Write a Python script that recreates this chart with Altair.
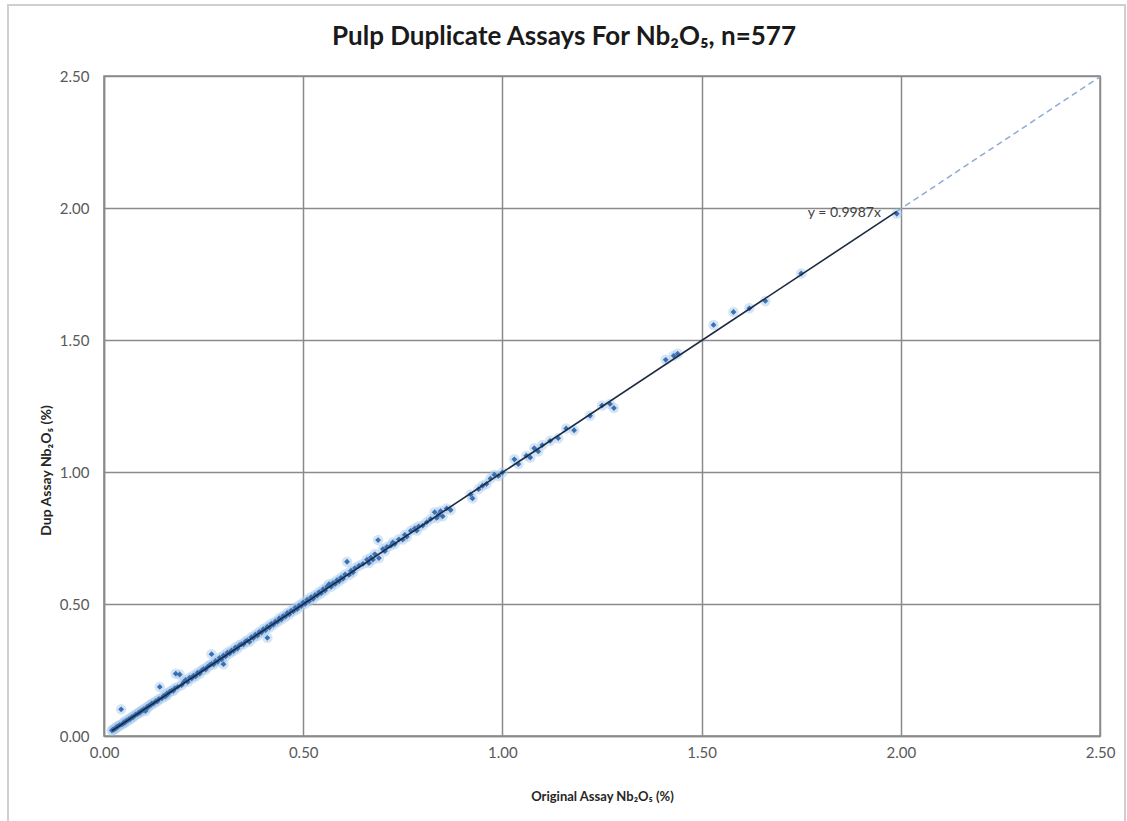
import altair as alt
import pandas as pd

# ---- data ----
xa = [0.02,0.022,0.025,0.028,0.03,0.032,0.035,0.038,0.04,0.043,0.045,0.048,0.05,0.053,0.056,
      0.06,0.063,0.066,0.07,0.073,0.077,0.08,0.084,0.088,0.09,0.094,0.098,0.10,0.104,0.108,
      0.11,0.114,0.118,0.12,0.125,0.13,0.134,0.138,0.14,0.145,0.15,0.154,0.158,0.16,0.165,
      0.17,0.174,0.178,0.18,0.185,0.19,0.195,0.20]
ya = [0.021,0.024,0.024,0.030,0.029,0.034,0.036,0.039,0.042,0.101,0.044,0.047,0.052,0.051,0.058,
      0.059,0.065,0.064,0.072,0.071,0.078,0.082,0.083,0.090,0.088,0.096,0.097,0.102,0.095,0.110,
      0.108,0.116,0.117,0.123,0.124,0.132,0.131,0.140,0.186,0.143,0.152,0.150,0.161,0.158,0.168,
      0.172,0.171,0.181,0.236,0.186,0.233,0.193,0.204]

xb = [0.205,0.21,0.215,0.22,0.225,0.23,0.235,0.24,0.245,0.25,0.255,0.26,0.265,0.27,0.27,
      0.275,0.28,0.285,0.29,0.295,0.30,0.30,0.305,0.31,0.315,0.32,0.325,0.33,0.335,0.34,
      0.345,0.35,0.355,0.36,0.365,0.37,0.375,0.38,0.385,0.39,0.395,0.40,0.405,0.41,0.41,
      0.415,0.42,0.425,0.43,0.435,0.44,0.445,0.45,0.455,0.46,0.465,0.47,0.475,0.48,0.485,
      0.49,0.495,0.50,0.505,0.51,0.515,0.52,0.525,0.53,0.535,0.54,0.545,0.55,0.555,0.56,
      0.565,0.57,0.575,0.58,0.585,0.59,0.595,0.60,0.605,0.61,0.615,0.62,0.625,0.63,0.64,0.65]
yb = [0.212,0.205,0.221,0.218,0.229,0.226,0.240,0.236,0.248,0.254,0.252,0.262,0.268,0.310,0.273,
      0.271,0.284,0.281,0.296,0.290,0.305,0.272,0.302,0.316,0.312,0.324,0.322,0.336,0.331,0.344,
      0.348,0.347,0.358,0.362,0.357,0.374,0.371,0.384,0.380,0.394,0.392,0.405,0.401,0.372,0.414,
      0.411,0.425,0.421,0.434,0.432,0.446,0.441,0.455,0.452,0.466,0.461,0.475,0.472,0.486,0.481,
      0.495,0.492,0.506,0.501,0.516,0.511,0.526,0.520,0.534,0.532,0.545,0.541,0.556,0.551,0.566,
      0.575,0.565,0.580,0.576,0.590,0.586,0.600,0.596,0.612,0.660,0.610,0.626,0.620,0.636,0.645,0.652]

xc = [0.66,0.665,0.67,0.675,0.68,0.688,0.69,0.70,0.705,0.71,0.72,0.725,0.73,0.74,0.75,
      0.755,0.76,0.77,0.78,0.785,0.79,0.80,0.81,0.82,0.83,0.835,0.84,0.845,0.85,0.86,0.87]
yc = [0.668,0.655,0.676,0.668,0.689,0.742,0.674,0.708,0.700,0.716,0.721,0.733,0.728,0.745,0.744,
      0.762,0.755,0.777,0.786,0.778,0.794,0.797,0.810,0.822,0.848,0.826,0.838,0.852,0.832,0.862,0.856]

xd = [0.92,0.925,0.94,0.95,0.96,0.97,0.98,0.99,1.00,1.03,1.04,1.06,1.07,1.08,1.09,
      1.10,1.12,1.14,1.16,1.18,1.22,1.25,1.27,1.28,1.41,1.43,1.44,1.53,1.58,1.62,
      1.66,1.75,1.99]
yd = [0.915,0.900,0.935,0.948,0.955,0.975,0.990,0.985,0.998,1.048,1.030,1.062,1.055,1.090,1.078,
      1.102,1.118,1.128,1.165,1.158,1.213,1.252,1.258,1.242,1.425,1.440,1.448,1.557,1.606,1.620,
      1.648,1.752,1.978]

trend_x = [0.02, 1.99]
trend_y = [0.020, 1.987]
fore_x = [1.99, 2.50]
fore_y = [1.987, 2.497]

eq_label = "y = 0.9987x"
eq_x = [1.95]
eq_y = [1.98]

ticks = [0.0, 0.5, 1.0, 1.5, 2.0, 2.5]

title_text = "Pulp Duplicate Assays For Nb\u2082O\u2085, n=577"
x_title = "Original Assay Nb\u2082O\u2085 (%)"
y_title = "Dup Assay Nb\u2082O\u2085 (%)"

# ---- tables ----
pts = pd.DataFrame({"x": xa + xb + xc + xd, "y": ya + yb + yc + yd})
trend = pd.DataFrame({"x": trend_x, "y": trend_y})
fore = pd.DataFrame({"x": fore_x, "y": fore_y})
eq = pd.DataFrame({"x": eq_x, "y": eq_y, "t": [eq_label]})
one = pd.DataFrame({"t": [title_text]})

FONT = "Lato"
GRID = "#8a8a8a"

xscale = alt.Scale(domain=[0, 2.5], nice=False, zero=False)
yscale = alt.Scale(domain=[0, 2.5], nice=False, zero=False)

xaxis = alt.Axis(values=ticks, format=".2f", title=x_title, grid=True, labelFlush=False,
                 tickSize=0, labelPadding=9, labelFontSize=15, labelColor="#595959",
                 labelFont=FONT, titleFont=FONT, titleFontSize=13, titleFontWeight="bold",
                 titleColor="#262626", titleY=60, titleBaseline="middle",
                 domainColor=GRID, domainWidth=1.5, gridColor=GRID, gridWidth=1.5)
yaxis = alt.Axis(values=ticks, format=".2f", title=y_title, grid=True, labelFlush=False,
                 tickSize=0, labelPadding=15, labelFontSize=15, labelColor="#595959",
                 labelFont=FONT, titleFont=FONT, titleFontSize=14, titleFontWeight="bold",
                 titleColor="#262626", titleX=-58, titleY=394, titleAngle=270,
                 titleAlign="center", titleBaseline="middle",
                 domainColor=GRID, domainWidth=1.5, gridColor=GRID, gridWidth=1.5)

frame = alt.Chart(one).mark_rect(fill=None, stroke="#cfcfcf", strokeWidth=2).encode(
    x=alt.value(-96), x2=alt.value(1021), y=alt.value(-71), y2=alt.value(800))

title = alt.Chart(one).mark_text(font=FONT, fontSize=26, fontWeight="bold", color="#1a1a1a",
                                 align="center", baseline="alphabetic").encode(
    x=alt.value(460), y=alt.value(-31), text="t:N")

base = alt.Chart(pts).encode(
    x=alt.X("x:Q", scale=xscale, axis=xaxis),
    y=alt.Y("y:Q", scale=yscale, axis=yaxis),
)
halo = base.mark_circle(size=110, color="#a9cbeb", opacity=0.5)
core = base.mark_point(shape="diamond", filled=True, size=34, color="#3b6fb3", opacity=1)

tline = alt.Chart(trend).mark_line(color="#1b2a41", strokeWidth=1.6).encode(
    x=alt.X("x:Q", scale=xscale), y=alt.Y("y:Q", scale=yscale))
fline = alt.Chart(fore).mark_line(color="#8eaad6", strokeWidth=1.5, strokeDash=[6, 4]).encode(
    x=alt.X("x:Q", scale=xscale), y=alt.Y("y:Q", scale=yscale))

label = alt.Chart(eq).mark_text(align="right", baseline="middle", font=FONT, fontSize=14,
                                color="#404040").encode(
    x=alt.X("x:Q", scale=xscale), y=alt.Y("y:Q", scale=yscale), text="t:N")

chart = alt.layer(frame, title, halo, core, tline, fline, label).properties(
    width=996, height=660,
    autosize=alt.AutoSizeParams(type="none"),
    padding={"left": 104, "top": 76, "right": 27, "bottom": 85},
    background="white",
).configure_view(stroke=GRID, strokeWidth=1.5)

chart.save("out.html", embed_options={"renderer": "svg", "actions": False})
